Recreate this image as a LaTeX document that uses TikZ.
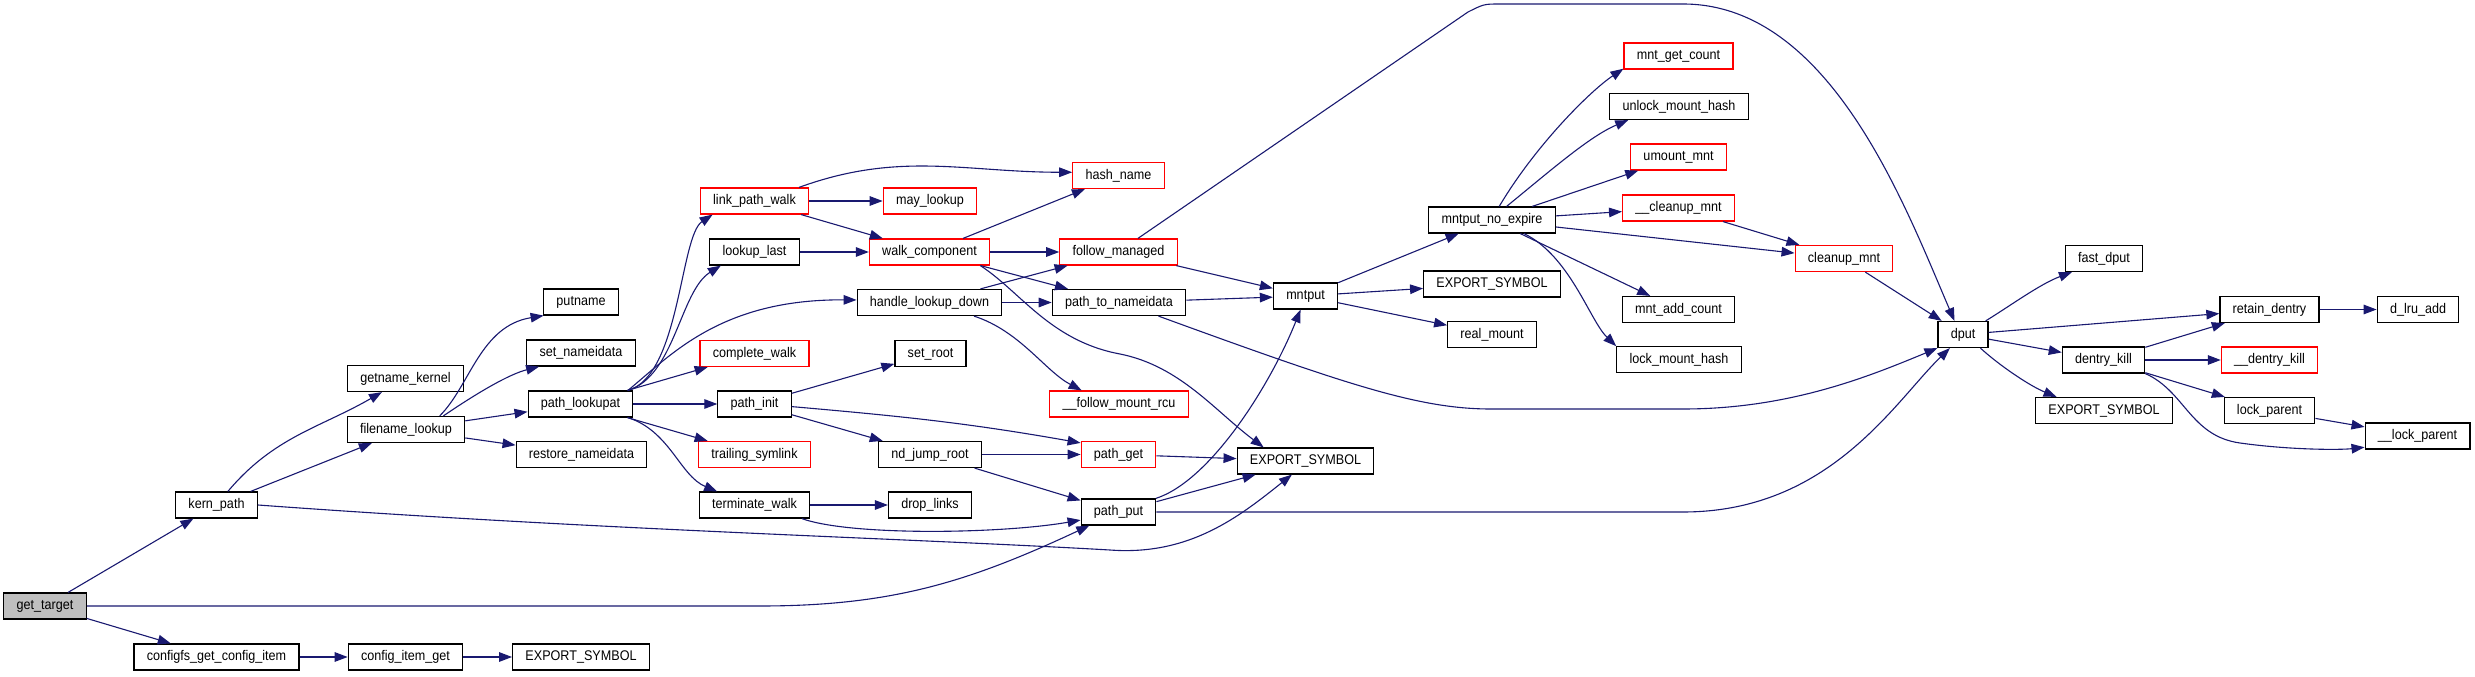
\documentclass[tikz,border=0pt]{standalone}
\usepackage{fontspec}
\setmainfont{Liberation Sans}[FakeStretch=0.9]
\usepackage{tikz}
\usetikzlibrary{arrows.meta}
\definecolor{callblue}{RGB}{25,25,112}
\definecolor{rootgray}{RGB}{191,191,191}
\definecolor{trunred} {RGB}{255,0,0}
\tikzset{
  fnbox/.style  ={draw=black, line width=0.6pt, fill=white,
                  minimum height=13pt, inner xsep=6.4pt, inner ysep=0pt,
                  text height=5.2pt, text depth=1.6pt,
                  font=\fontsize{7}{8}\selectfont},
  rootbox/.style={fnbox, fill=rootgray},
  redbox/.style ={fnbox, draw=trunred},
  %% call edges
  callarr/.style={-{Triangle[length=6.5pt,width=4.8pt]}, color=callblue,
                  line width=0.55pt},
}

\begin{document}
\begin{tikzpicture}[x=0.5pt,y=0.5pt]
  \useasboundingbox (0,0) rectangle (2475,676);
  \node[rootbox] (gt)   at (45,70)      {get\_target};
  \node[fnbox]   (kp)   at (216.5,171)  {kern\_path};
  \node[fnbox]   (cgci) at (216.5,19)   {configfs\_get\_config\_item};
  \node[fnbox]   (gk)   at (405.5,297.5){getname\_kernel};
  \node[fnbox]   (fl)   at (406,246.5)  {filename\_lookup};
  \node[fnbox]   (cig)  at (405.5,19)   {config\_item\_get};
  \node[fnbox]   (es1)  at (581,19)     {EXPORT\_SYMBOL};
  \node[fnbox]   (pn)   at (581,374)    {putname};
  \node[fnbox]   (snd)  at (581,323)    {set\_nameidata};
  \node[fnbox]   (pla)  at (580.5,272)  {path\_lookupat};
  \node[fnbox]   (rnd)  at (581.5,221.5){restore\_nameidata};
  \node[redbox]  (lpw)  at (754.5,475)  {link\_path\_walk};
  \node[fnbox]   (ll)   at (754.5,424)  {lookup\_last};
  \node[redbox]  (cw)   at (754.5,322.5){complete\_walk};
  \node[fnbox]   (pi)   at (754.5,272)  {path\_init};
  \node[redbox]  (ts)   at (754.5,221.5){trailing\_symlink};
  \node[fnbox]   (tw)   at (754.5,171)  {terminate\_walk};
  \node[redbox]  (ml)   at (930,475)    {may\_lookup};
  \node[redbox]  (wc)   at (929.5,424)  {walk\_component};
  \node[fnbox]   (hld)  at (929.5,373.5){handle\_lookup\_down};
  \node[fnbox]   (sr)   at (930.5,322.5){set\_root};
  \node[fnbox]   (njr)  at (930,221.5)  {nd\_jump\_root};
  \node[fnbox]   (dl)   at (930,171)    {drop\_links};
  \node[redbox]  (hn)   at (1118.5,500.5){hash\_name};
  \node[redbox]  (fm)   at (1118.5,424) {follow\_managed};
  \node[fnbox]   (ptn)  at (1119,373.5) {path\_to\_nameidata};
  \node[redbox]  (fmr)  at (1119,272)   {\_\_follow\_mount\_rcu};
  \node[redbox]  (pg)   at (1118.5,221.5){path\_get};
  \node[fnbox]   (pp)   at (1118.5,164) {path\_put};
  \node[fnbox]   (es2)  at (1305.5,215) {EXPORT\_SYMBOL};
  \node[fnbox]   (mp)   at (1305.5,380) {mntput};
  \node[fnbox]   (mne)  at (1492,456)   {mntput\_no\_expire};
  \node[fnbox]   (es3)  at (1492,392)   {EXPORT\_SYMBOL};
  \node[fnbox]   (rm)   at (1492,341.5) {real\_mount};
  \node[redbox]  (mgc)  at (1678.5,620) {mnt\_get\_count};
  \node[fnbox]   (umh)  at (1679,569.5) {unlock\_mount\_hash};
  \node[redbox]  (um)   at (1678.5,519) {umount\_mnt};
  \node[redbox]  (cm)   at (1678.5,468) {\_\_cleanup\_mnt};
  \node[fnbox]   (mac)  at (1678.5,366.5){mnt\_add\_count};
  \node[fnbox]   (lmh)  at (1679,316.5) {lock\_mount\_hash};
  \node[redbox]  (clm)  at (1844,417.5) {cleanup\_mnt};
  \node[fnbox]   (dp)   at (1963,341.5) {dput};
  \node[fnbox]   (fd)   at (2104,417.5) {fast\_dput};
  \node[fnbox]   (rd)   at (2269.5,366.5){retain\_dentry};
  \node[fnbox]   (dla)  at (2418,366.5) {d\_lru\_add};
  \node[fnbox]   (dk)   at (2103.5,316) {dentry\_kill};
  \node[redbox]  (dkk)  at (2269.5,316) {\_\_dentry\_kill};
  \node[fnbox]   (es4)  at (2104,265.5) {EXPORT\_SYMBOL};
  \node[fnbox]   (lp)   at (2269.5,265.5){lock\_parent};
  \node[fnbox]   (llp)  at (2417.5,240) {\_\_lock\_parent};

  \draw[callarr] (gt) -- (kp);
  \draw[callarr] (gt.east) -- (760,70) to[out=0,in=205] (pp);
  \draw[callarr] (gt) -- (cgci);
  \draw[callarr] (kp) to[out=50,in=210] (gk);
  \draw[callarr] (kp) -- (fl);
  \draw[callarr] (kp.east) .. controls (600,146) and (900,138) .. (1110,126)
                 .. controls (1190,120) and (1240,160) .. (es2.225);
  \draw[callarr] (cgci) -- (cig);
  \draw[callarr] (cig) -- (es1);
  \draw[callarr] (fl.22) .. controls (470,290) and (480,350) .. (pn.200);
  \draw[callarr] (fl.20) .. controls (480,285) and (510,302) .. (snd.198);
  \draw[callarr] (fl) -- (pla);
  \draw[callarr] (fl) -- (rnd);
  \draw[callarr] (pla.16) .. controls (680,300) and (680,440) .. (lpw.198);
  \draw[callarr] (pla.16) .. controls (675,300) and (680,385) .. (ll.202);
  \draw[callarr] (pla.16) .. controls (670,320) and (720,377) .. (hld.178);
  \draw[callarr] (pla) -- (cw);
  \draw[callarr] (pla) -- (pi);
  \draw[callarr] (pla) -- (ts);
  \draw[callarr] (pla.-16) .. controls (670,245) and (680,200) .. (tw.160);
  \draw[callarr] (lpw.17) to[out=20,in=180] (hn.176);
  \draw[callarr] (lpw) -- (ml);
  \draw[callarr] (lpw) -- (wc);
  \draw[callarr] (ll) -- (wc);
  \draw[callarr] (wc) -- (hn);
  \draw[callarr] (wc) -- (fm);
  \draw[callarr] (wc) -- (ptn);
  \draw[callarr] (wc.-15) .. controls (1020,385) and (1050,335) .. (1120,322)
                 .. controls (1180,310) and (1215,265) .. (es2.162);
  \draw[callarr] (hld) -- (fm);
  \draw[callarr] (hld) -- (ptn);
  \draw[callarr] (hld.-17) .. controls (1020,345) and (1045,305) .. (fmr.160);
  \draw[callarr] (fm.35) -- (1468,664) .. controls (1484,672) .. (1500,672)
                 -- (1683,672) .. controls (1830,672) and (1905,470) .. (dp.122);
  \draw[callarr] (fm) -- (mp);
  \draw[callarr] (ptn) -- (mp);
  \draw[callarr] (ptn.-19) .. controls (1350,290) and (1420,267) .. (1491,267)
                 -- (1683,267) .. controls (1790,267) and (1870,300) .. (dp.208);
  \draw[callarr] (pi) -- (sr);
  \draw[callarr] (pi.-4) to[out=-5,in=170] (pg.163);
  \draw[callarr] (pi) -- (njr);
  \draw[callarr] (njr) -- (pg);
  \draw[callarr] (njr) -- (pp);
  \draw[callarr] (tw) -- (dl);
  \draw[callarr] (tw.-16) .. controls (850,140) and (1000,142) .. (pp.192);
  \draw[callarr] (pg) -- (es2);
  \draw[callarr] (pp.20) .. controls (1210,195) and (1270,290) .. (mp.250);
  \draw[callarr] (pp) -- (es2);
  \draw[callarr] (pp.east) -- (1683,164) .. controls (1830,164) and (1895,275) .. (dp.226);
  \draw[callarr] (mp) -- (mne);
  \draw[callarr] (mp) -- (es3);
  \draw[callarr] (mp) -- (rm);
  \draw[callarr] (mne.62) .. controls (1535,530) and (1590,585) .. (mgc.193);
  \draw[callarr] (mne.43) .. controls (1550,505) and (1590,540) .. (umh.195);
  \draw[callarr] (mne) -- (um);
  \draw[callarr] (mne) -- (cm);
  \draw[callarr] (mne) -- (clm);
  \draw[callarr] (mne) -- (mac);
  \draw[callarr] (mne.-23) .. controls (1570,420) and (1590,355) .. (lmh.168);
  \draw[callarr] (cm) -- (clm);
  \draw[callarr] (clm) -- (dp);
  \draw[callarr] (dp.31) .. controls (2010,370) and (2040,392) .. (fd.203);
  \draw[callarr] (dp) -- (rd);
  \draw[callarr] (dp) -- (dk);
  \draw[callarr] (dp.-38) .. controls (2000,310) and (2030,290) .. (es4.164);
  \draw[callarr] (dk) -- (rd);
  \draw[callarr] (dk) -- (dkk);
  \draw[callarr] (dk) -- (lp);
  \draw[callarr] (dk.-18) .. controls (2185,285) and (2190,240) .. (2240,233)
                 .. controls (2290,226) and (2340,226) .. (llp.192);
  \draw[callarr] (rd) -- (dla);
  \draw[callarr] (lp) -- (llp);
\end{tikzpicture}
\end{document}
